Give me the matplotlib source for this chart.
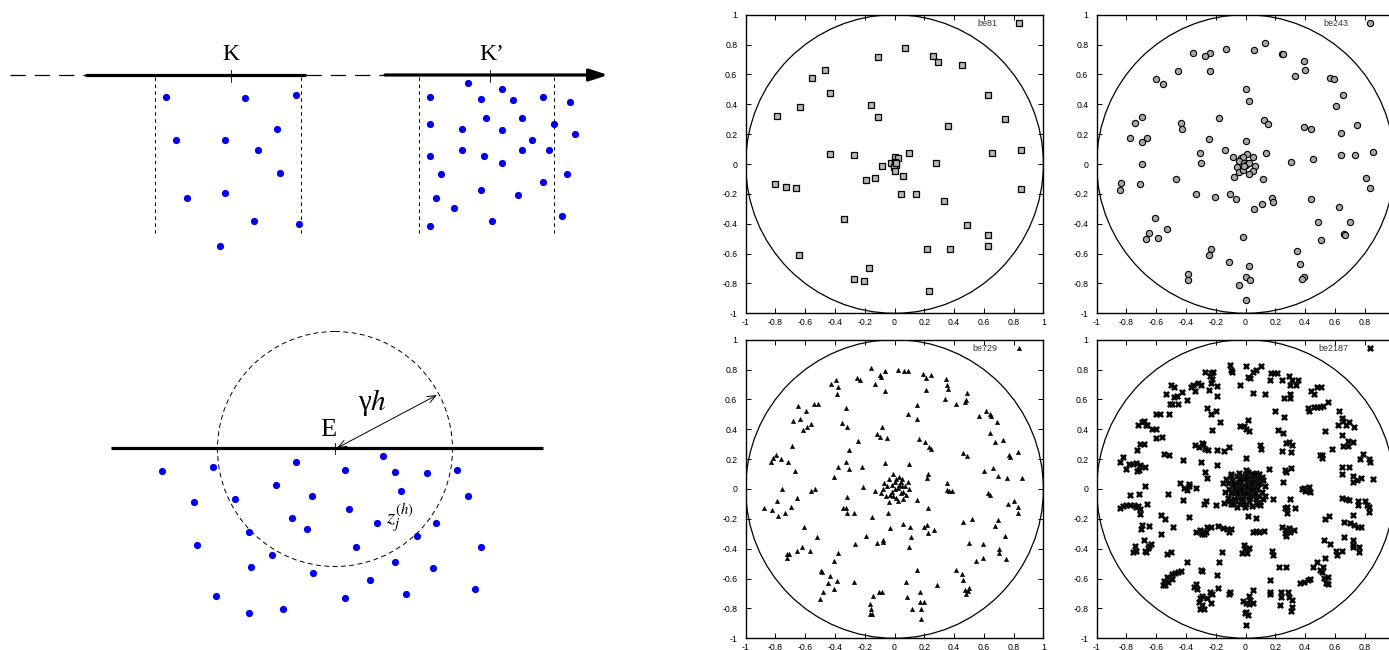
import numpy as np
import matplotlib
matplotlib.use('Agg')
import matplotlib.pyplot as plt
from matplotlib.patches import Circle

# 左の模式図: 画素座標の点
k_dots = [(166, 97), (245, 98), (296, 95), (277, 129), (176, 140), (225, 140), (258, 150),
          (280, 173), (187, 198), (225, 193), (254, 221), (299, 224), (220, 246)]
kp_dots = [(430, 97), (468, 83), (502, 89), (481, 99), (513, 100), (543, 97), (570, 102),
           (430, 124), (486, 118), (522, 118), (462, 129), (502, 130), (554, 124), (575, 134),
           (532, 140), (430, 156), (462, 150), (484, 156), (522, 150), (549, 150), (502, 163),
           (441, 174), (567, 174), (543, 182), (481, 190), (518, 195), (436, 198), (454, 208),
           (562, 216), (492, 221), (430, 226)]
e_dots = [(162, 471), (213, 467), (296, 462), (345, 470), (383, 456), (395, 472), (427, 473),
          (457, 470), (276, 485), (194, 502), (235, 499), (312, 496), (401, 491), (468, 496),
          (292, 518), (349, 509), (307, 529), (377, 523), (436, 523), (249, 532), (417, 536),
          (197, 545), (356, 547), (481, 547), (272, 555), (395, 562), (251, 567), (313, 573),
          (433, 568), (370, 580), (216, 596), (345, 598), (406, 594), (475, 589), (249, 613),
          (283, 609)]

# 右の4枚の散布図
be81 = [(0.069, 0.78), (-0.11, 0.72), (0.258, 0.723), (0.293, 0.68), (0.452, 0.663),
        (-0.464, 0.632), (-0.555, 0.576), (-0.434, 0.478), (0.629, 0.464), (-0.636, 0.382),
        (-0.157, 0.393), (-0.112, 0.312), (-0.793, 0.319), (0.741, 0.301), (0.356, 0.252),
        (-0.432, 0.065), (-0.273, 0.06), (0.096, 0.071), (0.658, 0.071), (0.847, 0.096),
        (-0.081, -0.013), (0.0, 0.049), (0.022, 0.04), (-0.022, 0.009), (0.0, 0.0),
        (0.008, -0.01), (0.004, 0.012), (-0.006, -0.018), (0.012, 0.004), (0.0, -0.045),
        (0.28, 0.004), (-0.193, -0.109), (-0.134, -0.096), (0.06, -0.083), (-0.806, -0.136),
        (-0.73, -0.156), (-0.663, -0.163), (0.847, -0.165), (0.043, -0.199), (0.143, -0.199),
        (0.331, -0.248), (-0.34, -0.37), (0.486, -0.41), (0.629, -0.478), (0.629, -0.551),
        (0.217, -0.567), (0.372, -0.567), (-0.64, -0.612), (-0.175, -0.694), (-0.273, -0.772),
        (-0.206, -0.786), (0.233, -0.85)]

be243 = [(0.129, 0.81), (-0.131, 0.772), (0.056, 0.761), (-0.35, 0.741), (-0.238, 0.746),
         (-0.274, 0.723), (0.245, 0.739), (0.252, 0.734), (0.394, 0.688), (0.399, 0.632),
         (0.334, 0.592), (-0.452, 0.62), (-0.24, 0.62), (-0.604, 0.571), (-0.555, 0.533),
         (0.566, 0.576), (0.597, 0.571), (0.0, 0.5), (0.024, 0.42), (0.655, 0.46), (0.608, 0.388),
         (-0.695, 0.317), (-0.746, 0.275), (-0.176, 0.308), (-0.434, 0.277), (-0.425, 0.232),
         (0.127, 0.297), (0.149, 0.266), (0.748, 0.259), (0.394, 0.245), (0.437, 0.237),
         (-0.777, 0.176), (-0.664, 0.172), (-0.693, 0.145), (-0.247, 0.165), (0.641, 0.21),
         (0.004, 0.154), (-0.138, 0.092), (-0.307, 0.071), (-0.299, 0.009), (-0.699, 0.002),
         (0.14, 0.074), (0.641, 0.063), (0.735, 0.058), (0.857, 0.078), (0.305, 0.011),
         (0.452, 0.033), (-0.087, 0.047), (0.013, 0.065), (0.047, 0.045), (-0.033, 0.04),
         (-0.02, 0.049), (-0.047, 0.022), (-0.06, -0.022), (0.062, -0.013), (0.051, -0.045),
         (-0.047, -0.054), (0.02, -0.065), (-0.02, -0.038), (0.0, 0.0), (0.01, 0.01),
         (-0.01, 0.005), (0.005, -0.01), (0.02, 0.01), (-0.01, -0.015), (-0.076, -0.089),
         (0.116, -0.103), (-0.706, -0.132), (-0.837, -0.129), (-0.844, -0.172), (-0.47, -0.103),
         (0.811, -0.092), (0.835, -0.158), (-0.332, -0.203), (-0.207, -0.221), (-0.105, -0.203),
         (-0.065, -0.237), (0.18, -0.225), (0.183, -0.257), (0.109, -0.27), (0.056, -0.299),
         (0.441, -0.234), (0.626, -0.29), (-0.608, -0.362), (-0.528, -0.433), (-0.648, -0.46),
         (-0.668, -0.502), (-0.588, -0.493), (0.486, -0.39), (0.699, -0.386), (0.659, -0.469),
         (0.67, -0.478), (0.508, -0.507), (-0.02, -0.489), (-0.234, -0.569), (-0.247, -0.609),
         (0.347, -0.58), (0.365, -0.672), (-0.114, -0.658), (0.02, -0.685), (-0.388, -0.739),
         (-0.385, -0.775), (0.396, -0.759), (0.381, -0.772), (0.004, -0.757), (0.033, -0.777),
         (-0.045, -0.81), (0.0, -0.908)]

be729 = [(-0.161, 0.812), (-0.067, 0.788), (-0.098, 0.763), (-0.089, 0.748), (0.025, 0.795),
         (0.065, 0.792), (0.092, 0.792), (0.19, 0.77), (0.213, 0.743), (0.242, 0.766),
         (0.345, 0.739), (0.351, 0.694), (0.362, 0.667), (0.342, 0.605), (-0.394, 0.728),
         (-0.38, 0.685), (-0.385, 0.636), (-0.427, 0.705), (-0.255, 0.743), (-0.233, 0.728),
         (-0.132, 0.701), (-0.067, 0.658), (0.21, 0.663), (0.416, 0.569), (0.474, 0.583),
         (0.49, 0.64), (0.481, 0.598), (0.148, 0.56), (0.092, 0.504), (0.154, 0.469),
         (-0.541, 0.569), (-0.515, 0.571), (-0.647, 0.558), (-0.638, 0.471), (-0.685, 0.455),
         (-0.593, 0.522), (-0.564, 0.433), (-0.588, 0.413), (-0.617, 0.395), (-0.327, 0.54),
         (-0.351, 0.442), (-0.32, 0.413), (-0.081, 0.417), (-0.121, 0.368), (-0.098, 0.346),
         (-0.051, 0.339), (-0.246, 0.319), (0.163, 0.337), (0.206, 0.317), (0.233, 0.283),
         (0.242, 0.27), (0.57, 0.491), (0.615, 0.522), (0.644, 0.504), (0.649, 0.487),
         (0.689, 0.449), (0.642, 0.377), (0.678, 0.315), (0.727, 0.328), (0.767, 0.23),
         (0.774, 0.214), (0.83, 0.246), (0.463, 0.241), (0.485, 0.221), (-0.687, 0.29),
         (-0.83, 0.183), (-0.817, 0.205), (-0.794, 0.225), (-0.765, 0.199), (-0.716, 0.181),
         (-0.669, 0.118), (-0.304, 0.259), (-0.327, 0.179), (-0.306, 0.132), (-0.383, 0.145),
         (-0.407, 0.083), (-0.217, 0.147), (-0.067, 0.172), (0.096, 0.167), (0.224, 0.103),
         (0.215, 0.071), (0.604, 0.123), (0.662, 0.138), (0.698, 0.085), (0.754, 0.071),
         (0.857, 0.074), (0.353, 0.038), (0.351, -0.007), (0.365, -0.011), (0.383, -0.016),
         (-0.756, 0.002), (-0.559, -0.013), (-0.535, -0.002), (-0.655, -0.062), (-0.21, 0.011),
         (-0.318, -0.054), (-0.132, -0.016), (-0.79, -0.078), (-0.875, -0.127), (-0.825, -0.141),
         (-0.781, -0.179), (-0.734, -0.163), (-0.694, -0.121), (-0.349, -0.125), (-0.327, -0.129),
         (-0.32, -0.161), (-0.273, -0.161), (-0.15, -0.188), (-0.045, -0.158), (0.148, -0.074),
         (0.226, -0.129), (0.629, -0.029), (0.64, -0.042), (0.761, -0.1), (0.803, -0.083),
         (0.828, -0.123), (0.83, -0.158), (-0.606, -0.257), (-0.519, -0.324), (-0.192, -0.315),
         (-0.031, -0.263), (0.056, -0.234), (0.103, -0.252), (0.11, -0.319), (0.096, -0.388),
         (0.197, -0.252), (0.221, -0.239), (0.262, -0.272), (0.226, -0.295), (-0.266, -0.368),
         (-0.121, -0.362), (-0.076, -0.353), (-0.08, -0.343), (0.463, -0.221), (0.517, -0.203),
         (0.499, -0.364), (0.597, -0.368), (0.544, -0.484), (0.597, -0.462), (0.673, -0.25),
         (0.698, -0.21), (0.745, -0.315), (0.7, -0.404), (0.7, -0.431), (0.749, -0.469),
         (-0.72, -0.433), (-0.708, -0.433), (-0.723, -0.464), (-0.653, -0.413), (-0.622, -0.388),
         (-0.568, -0.413), (-0.38, -0.426), (-0.409, -0.484), (-0.497, -0.549), (-0.488, -0.554),
         (-0.481, -0.69), (-0.501, -0.737), (-0.434, -0.583), (-0.445, -0.627), (-0.387, -0.614),
         (-0.407, -0.672), (-0.275, -0.623), (0.15, -0.542), (0.078, -0.62), (0.087, -0.721),
         (0.168, -0.69), (0.174, -0.757), (0.199, -0.757), (0.179, -0.801), (0.179, -0.873),
         (0.114, -0.801), (0.284, -0.645), (-0.143, -0.717), (-0.103, -0.688), (-0.087, -0.688),
         (-0.163, -0.77), (-0.161, -0.801), (-0.168, -0.837), (-0.154, -0.837), (0.416, -0.542),
         (0.454, -0.567), (0.459, -0.609), (0.47, -0.679), (0.483, -0.701), (0.494, -0.685),
         (0.501, -0.661),
         # 中心の塊
         (0.0, 0.0), (0.02, 0.01), (-0.02, 0.03), (0.04, 0.05), (-0.05, 0.02), (0.06, -0.02),
         (-0.03, -0.04), (0.01, -0.06), (0.05, 0.07), (-0.06, -0.05), (0.03, 0.08), (-0.01, 0.1),
         (0.07, 0.02), (-0.07, 0.04), (0.08, -0.04), (-0.04, -0.09), (0.02, -0.08), (0.09, 0.05),
         (-0.08, 0.0), (0.0, 0.05), (0.04, -0.03), (-0.02, -0.02), (0.05, 0.02), (-0.04, 0.07),
         (0.06, -0.07), (0.03, 0.03), (-0.01, -0.05), (0.1, 0.0), (-0.09, -0.03), (0.01, 0.07)]

be2187 = [(-0.107, 0.83), (-0.1, 0.8), (-0.09, 0.785), (0.0, 0.826), (0.016, 0.752), (0.033, 0.741),
          (0.047, 0.786), (0.073, 0.8), (0.107, 0.824), (0.171, 0.775), (0.189, 0.775), (0.209, 0.775),
          (0.165, 0.728), (0.247, 0.728), (0.292, 0.759), (0.296, 0.694), (0.312, 0.73), (0.339, 0.694),
          (0.354, 0.73), (-0.038, 0.694), (0.051, 0.643), (0.131, 0.636), (0.301, 0.636), (0.301, 0.607),
          (0.256, 0.612), (-0.272, 0.786), (-0.234, 0.775), (-0.218, 0.786), (-0.238, 0.757),
          (-0.223, 0.739), (-0.194, 0.688), (-0.194, 0.623), (-0.229, 0.712), (-0.247, 0.661),
          (-0.321, 0.71), (-0.296, 0.696), (-0.367, 0.685), (-0.35, 0.694), (-0.341, 0.656),
          (-0.39, 0.598), (-0.425, 0.647), (-0.463, 0.625), (-0.501, 0.694), (-0.483, 0.683),
          (-0.479, 0.616), (-0.532, 0.638), (-0.506, 0.569), (-0.492, 0.567), (-0.452, 0.569),
          (-0.514, 0.504), (-0.604, 0.504), (-0.572, 0.504), (-0.599, 0.339), (-0.561, 0.346),
          (-0.668, 0.429), (-0.699, 0.451), (-0.684, 0.458), (-0.659, 0.429), (-0.63, 0.402),
          (-0.604, 0.402), (-0.722, 0.429), (-0.706, 0.299), (-0.681, 0.301), (-0.728, 0.261),
          (-0.55, 0.232), (-0.514, 0.23), (-0.82, 0.217), (-0.844, 0.18), (-0.802, 0.134),
          (-0.784, 0.165), (-0.753, 0.167), (-0.737, 0.172), (-0.708, 0.158), (-0.675, 0.145),
          (-0.726, 0.121), (-0.715, 0.127), (-0.419, 0.196), (-0.301, 0.181), (-0.274, 0.114),
          (-0.256, 0.076), (-0.194, 0.158), (-0.341, 0.297), (-0.314, 0.283), (-0.292, 0.306),
          (-0.272, 0.27), (-0.283, 0.301), (-0.252, 0.259), (-0.194, 0.263), (-0.145, 0.257),
          (-0.114, 0.279), (-0.256, 0.54), (-0.234, 0.5), (-0.2, 0.522), (-0.227, 0.397),
          (-0.171, 0.446), (-0.038, 0.424), (-0.009, 0.424), (0.016, 0.464), (0.002, 0.402),
          (0.02, 0.388), (0.004, 0.205), (0.1, 0.297), (0.105, 0.268), (0.158, 0.134),
          (0.198, 0.52), (0.216, 0.393), (0.256, 0.484), (0.249, 0.373), (0.272, 0.306),
          (0.247, 0.252), (0.292, 0.312), (0.305, 0.25), (0.314, 0.295), (0.267, 0.129),
          (0.272, 0.114), (0.307, 0.143), (0.254, 0.049), (0.301, -0.069), (0.263, -0.129),
          (0.276, -0.118), (0.278, -0.163), (0.332, -0.129), (0.419, 0.54), (0.423, 0.52),
          (0.457, 0.549), (0.479, 0.547), (0.501, 0.547), (0.523, 0.558), (0.552, 0.585),
          (0.537, 0.391), (0.581, 0.266), (0.443, 0.658), (0.459, 0.638), (0.479, 0.681),
          (0.508, 0.681), (0.626, 0.525), (0.65, 0.475), (0.653, 0.458), (0.677, 0.429),
          (0.693, 0.451), (0.731, 0.413), (0.624, 0.429), (0.648, 0.359), (0.686, 0.319),
          (0.686, 0.29), (0.655, 0.29), (0.722, 0.312), (0.503, 0.23), (0.512, 0.205),
          (0.514, 0.228), (0.646, 0.147), (0.65, 0.1), (0.695, 0.145), (0.724, 0.085),
          (0.724, 0.045), (0.748, 0.058), (0.775, 0.076), (0.826, 0.203), (0.837, 0.179),
          (0.788, 0.234), (0.768, 0.199), (0.855, 0.069), (0.648, -0.058), (0.673, -0.067),
          (0.695, -0.074), (0.753, -0.08), (0.753, -0.107), (0.804, -0.078), (0.815, -0.107),
          (0.826, -0.121), (0.83, -0.156), (0.722, -0.174), (0.661, -0.219), (0.699, -0.23),
          (0.728, -0.243), (0.753, -0.252), (0.775, -0.254), (0.659, -0.324), (0.724, -0.344),
          (0.72, -0.375), (0.724, -0.391), (0.759, -0.388), (0.759, -0.42), (0.608, -0.415),
          (0.615, -0.442), (0.648, -0.413), (0.526, -0.342), (0.57, -0.366), (0.537, -0.464),
          (0.481, -0.487), (0.452, -0.52), (0.497, -0.542), (0.514, -0.558), (0.53, -0.598),
          (0.541, -0.627), (0.557, -0.638), (0.555, -0.592), (0.523, -0.52), (0.363, -0.632),
          (0.396, -0.621), (0.421, -0.607), (0.434, -0.603), (0.532, -0.203), (0.559, -0.183),
          (0.376, 0.002), (0.396, 0.004), (0.412, -0.009), (0.425, 0.013), (0.399, -0.013),
          (0.432, -0.018), (0.294, -0.263), (0.245, -0.254), (0.278, -0.272), (0.298, -0.286),
          (0.325, -0.272), (0.272, -0.317), (0.278, -0.286), (0.263, -0.292), (0.122, -0.279),
          (0.091, -0.286), (0.069, -0.281), (0.047, -0.29), (0.067, -0.194), (0.18, -0.415),
          (0.183, -0.442), (0.223, -0.525), (0.274, -0.525), (0.165, -0.607), (0.167, -0.688),
          (0.167, -0.701), (0.236, -0.688), (0.238, -0.721), (0.234, -0.777), (0.287, -0.688),
          (0.294, -0.721), (0.31, -0.741), (0.31, -0.79), (0.307, -0.819), (-0.013, -0.377),
          (-0.002, -0.393), (0.022, -0.393), (0.009, -0.429), (-0.022, -0.429), (-0.156, -0.42),
          (-0.176, -0.487), (-0.189, -0.578), (-0.187, -0.661), (-0.236, -0.688), (-0.225, -0.701),
          (-0.296, -0.545), (-0.303, -0.732), (-0.29, -0.714), (-0.256, -0.732), (-0.229, -0.761),
          (-0.336, -0.638), (-0.325, -0.672), (-0.345, -0.656), (-0.31, -0.759), (-0.305, -0.806),
          (-0.294, -0.775), (-0.278, -0.806), (-0.102, -0.688), (-0.109, -0.701), (-0.018, -0.75),
          (0.004, -0.761), (0.022, -0.77), (0.031, -0.746), (0.022, -0.719), (0.051, -0.679),
          (0.053, -0.761), (0.004, -0.821), (-0.007, -0.833), (0.016, -0.842), (0.002, -0.911),
          (-0.39, -0.491), (-0.432, -0.549), (-0.457, -0.554), (-0.477, -0.565), (-0.494, -0.569),
          (-0.528, -0.589), (-0.55, -0.618), (-0.541, -0.645), (-0.552, -0.645), (-0.521, -0.621),
          (-0.492, -0.603), (-0.528, -0.433), (-0.501, -0.422), (-0.677, -0.413), (-0.67, -0.424),
          (-0.657, -0.397), (-0.65, -0.384), (-0.633, -0.368), (-0.681, -0.342), (-0.746, -0.379),
          (-0.757, -0.422), (-0.737, -0.415), (-0.699, -0.243), (-0.65, -0.248), (-0.704, -0.268),
          (-0.568, -0.301), (-0.57, -0.174), (-0.539, -0.201), (-0.486, -0.257), (-0.379, -0.19),
          (-0.336, -0.286), (-0.307, -0.277), (-0.296, -0.286), (-0.292, -0.304), (-0.281, -0.299),
          (-0.261, -0.254), (-0.265, -0.286), (-0.234, -0.254), (-0.187, -0.248), (-0.151, -0.263),
          (-0.125, -0.27), (-0.109, -0.286), (-0.098, -0.268), (-0.29, -0.547), (-0.842, -0.127),
          (-0.826, -0.114), (-0.804, -0.109), (-0.777, -0.109), (-0.751, -0.109), (-0.737, -0.121),
          (-0.71, -0.136), (-0.708, -0.165), (-0.722, -0.114), (-0.659, -0.103), (-0.775, -0.042),
          (-0.713, -0.031), (-0.675, 0.02), (-0.523, -0.033), (-0.443, 0.042), (-0.414, 0.004),
          (-0.396, -0.004), (-0.383, 0.018), (-0.379, 0.031), (-0.421, -0.071), (-0.332, 0.009),
          (-0.281, -0.1), (-0.265, -0.083), (-0.2, -0.109), (-0.147, -0.094), (0.018, -0.183),
          (0.187, -0.067),
          # 中心の塊
          (0.0, 0.0), (0.02, 0.01), (-0.02, 0.02), (0.04, -0.01), (-0.04, -0.02), (0.01, 0.05),
          (-0.01, -0.05), (0.06, 0.03), (-0.06, 0.04), (0.05, -0.05), (-0.05, -0.06), (0.03, 0.08),
          (-0.03, 0.09), (0.08, 0.0), (-0.08, 0.01), (0.07, -0.07), (-0.07, -0.08), (0.0, 0.1),
          (0.0, -0.1), (0.1, 0.04), (-0.1, -0.03), (0.09, -0.05), (-0.09, 0.06), (0.02, -0.08),
          (-0.02, 0.07), (0.06, 0.08), (-0.06, 0.09), (0.11, -0.02), (-0.11, 0.0), (0.04, 0.1),
          (-0.04, -0.1), (0.08, 0.07), (-0.08, -0.07), (0.03, -0.03), (-0.03, 0.03), (0.05, 0.05),
          (-0.05, 0.01), (0.07, 0.05), (-0.12, -0.06), (0.12, 0.06), (0.1, -0.09), (-0.1, 0.09),
          (0.015, 0.03), (-0.015, -0.03), (0.045, 0.02), (-0.045, 0.05), (0.03, -0.06),
          (-0.07, -0.03), (0.09, 0.1), (-0.02, -0.09), (-0.13, 0.07), (0.13, -0.05), (-0.1, -0.1),
          (0.07, 0.11), (-0.15, 0.04), (0.0, 0.13), (-0.06, -0.12), (0.1, -0.11),
          (0.01, 0.02), (-0.03, -0.01), (0.025, -0.045), (-0.035, 0.06), (0.065, -0.035),
          (-0.065, -0.015), (0.085, 0.035), (-0.085, 0.035), (0.035, 0.045), (-0.025, -0.07),
          (0.055, 0.1), (-0.045, 0.11), (0.11, 0.08), (-0.11, -0.08), (0.12, -0.07), (-0.12, 0.04),
          (0.015, 0.115), (-0.005, -0.12), (0.075, -0.1), (-0.085, -0.1), (0.095, 0.075),
          (-0.095, 0.1), (0.13, 0.02), (-0.135, -0.02), (0.04, -0.115), (0.0, 0.075), (0.0, -0.03),
          (0.06, 0.0), (-0.06, -0.03), (0.035, 0.0)]

tick_vals = [-1, -0.8, -0.6, -0.4, -0.2, 0, 0.2, 0.4, 0.6, 0.8, 1]
tick_labels = ['-1', '-0.8', '-0.6', '-0.4', '-0.2', '0', '0.2', '0.4', '0.6', '0.8', '1']

plt.rcParams['font.family'] = ['Liberation Sans', 'DejaVu Sans']
plt.rcParams['mathtext.fontset'] = 'stix'
plt.rcParams['lines.scale_dashes'] = False

W, H = 1389, 650
fig = plt.figure(figsize=(W / 100, H / 100), dpi=100)

# ---- 模式図 ----
ax0 = fig.add_axes([0, 0, 700 / W, 1])
ax0.set_xlim(0, 700)
ax0.set_ylim(650, 0)
ax0.axis('off')

serif = ['Liberation Serif', 'DejaVu Serif']
blue = '#0000ee'

ax0.plot([10, 85], [75, 75], color='k', lw=0.9, ls=(0, (11, 6.5)))
ax0.plot([306, 387], [75, 75], color='k', lw=0.9, ls=(0, (11, 6.5)))
ax0.plot([85, 306], [75, 75], color='k', lw=2.3, solid_capstyle='butt')
ax0.annotate('', xy=(608, 75), xytext=(385, 75),
             arrowprops=dict(arrowstyle='-|>,head_length=11,head_width=3.6', lw=2.3,
                             color='k', shrinkA=0, shrinkB=0, mutation_scale=1))
for xv in [155, 301, 419, 554]:
    ax0.plot([xv, xv], [77, 233], color='k', lw=0.7, ls=(0, (2.5, 2.5)))
for xv in [231, 490]:
    ax0.plot([xv, xv], [70, 82], color='k', lw=0.6)
ax0.text(231, 54, 'K', fontsize=17, family=serif, ha='center', va='center')
ax0.text(492, 54, 'K’', fontsize=17, family=serif, ha='center', va='center')

for pts in [k_dots, kp_dots, e_dots]:
    a = np.array(pts)
    ax0.plot(a[:, 0], a[:, 1], 'o', color=blue, ms=5.2, mec='none')

ax0.plot([111, 543], [448, 448], color='k', lw=2.3, solid_capstyle='butt')
ax0.add_patch(Circle((335, 449), 117.5, fill=False, color='k', lw=0.7, ls=(0, (3.5, 2.5))))
ax0.plot([335, 335], [443, 454], color='k', lw=0.6)
ax0.annotate('', xy=(437, 395), xytext=(337, 448),
             arrowprops=dict(arrowstyle='<->,head_length=0.5,head_width=0.2', lw=0.7,
                             color='k', shrinkA=0, shrinkB=0, mutation_scale=12))
ax0.text(328, 430, 'E', fontsize=19, family=serif, ha='center', va='center')
ax0.text(372, 403, r'γ$h$', fontsize=21, family=serif, ha='center', va='center')
ax0.text(400, 518, r'$z_j^{(h)}$', fontsize=15, ha='center', va='center')

# ---- 散布図 ----
col_x = [745.7, 1096.7]
row_y = [14.7, 339.7]
pw, ph = 297.7, 298.6

panels = [
    (be81, 'be81', dict(marker='s', ms=4.3, mfc='#b8b8b8', mec='k', mew=0.9), 0, 0),
    (be243, 'be243', dict(marker='o', ms=4.5, mfc='#a8a8a8', mec='k', mew=0.8), 1, 0),
    (be729, 'be729', dict(marker='^', ms=3.2, mfc='k', mec='k', mew=0.3), 0, 1),
    (be2187, 'be2187', dict(marker='X', ms=4.6, mfc='k', mec='#222222', mew=0.4), 1, 1),
]

for pts, name, style, c, r in panels:
    ax = fig.add_axes([col_x[c] / W, 1 - (row_y[r] + ph) / H, pw / W, ph / H])
    a = np.array(pts)
    ax.plot(a[:, 0], a[:, 1], ls='none', label=name, **style)
    ax.add_patch(Circle((0, 0), 1, fill=False, color='k', lw=0.9))
    ax.set_xlim(-1, 1)
    ax.set_ylim(-1, 1)
    ax.set_xticks(tick_vals)
    ax.set_xticklabels(tick_labels)
    ax.set_yticks(tick_vals)
    ax.set_yticklabels(tick_labels)
    ax.tick_params(direction='in', top=True, right=True, length=3.5, width=0.7,
                   labelsize=6.3, colors='k')
    ax.tick_params(axis='x', pad=3.5)
    ax.tick_params(axis='y', pad=6)
    for s in ax.spines.values():
        s.set_linewidth(1.0)
    leg = ax.legend(loc='center right', bbox_to_anchor=(0.945, 0.97), borderaxespad=0,
                    frameon=False, markerfirst=False, handlelength=1, handletextpad=1.9,
                    fontsize=6.5, borderpad=0.4)
    for t in leg.get_texts():
        t.set_color('#333333')

fig.savefig('out.png', dpi=100)
